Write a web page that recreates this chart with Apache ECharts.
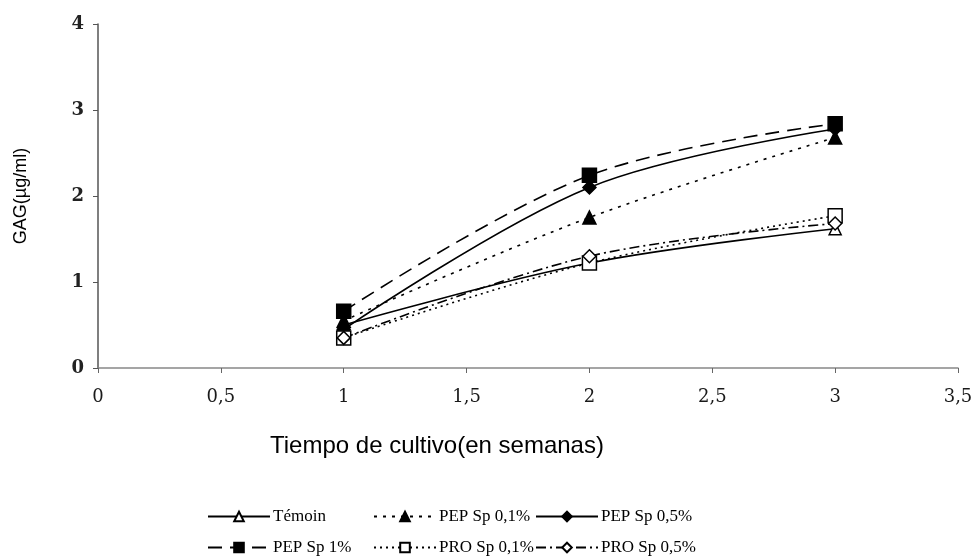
<!DOCTYPE html>
<html><head><meta charset="utf-8">
<script src="https://cdn.jsdelivr.net/npm/echarts@6/dist/echarts.min.js"></script>
<style>html,body{margin:0;padding:0;background:#fff}#c{width:977px;height:557px}</style>
</head><body><div id="c"></div>
<script>
var weeks = [1, 2, 3];
var seriesNames = ['Témoin', 'PEP Sp 0,1%', 'PEP Sp 0,5%', 'PEP Sp 1%', 'PRO Sp 0,1%', 'PRO Sp 0,5%'];
var temoin = [0.50, 1.22, 1.62];
var pep01 = [0.55, 1.75, 2.68];
var pep05 = [0.45, 2.10, 2.78];
var pep1 = [0.66, 2.24, 2.84];
var pro01 = [0.35, 1.22, 1.77];
var pro05 = [0.35, 1.30, 1.68];
var xTicks = [0, 0.5, 1, 1.5, 2, 2.5, 3, 3.5];
var yTicks = [0, 1, 2, 3, 4];

var values = [temoin, pep01, pep05, pep1, pro01, pro05];
var styles = [
  {symbol: 'triangle', fill: '#fff', size: 12, dash: 'solid'},
  {symbol: 'triangle', fill: '#000', size: 13, dash: [3, 6]},
  {symbol: 'diamond', fill: '#000', size: 13, dash: 'solid'},
  {symbol: 'rect', fill: '#000', size: 14, dash: [14, 8]},
  {symbol: 'rect', fill: '#fff', size: 14, dash: [2, 4]},
  {symbol: 'diamond', fill: '#fff', size: 13, dash: [10, 4, 2, 4]}
];
var series = seriesNames.map(function (n, i) {
  var s = styles[i];
  return {
    name: n, type: 'line', smooth: 0.35,
    data: weeks.map(function (w, j) { return [w, values[i][j]]; }),
    symbol: s.symbol, symbolSize: s.size,
    itemStyle: {color: s.fill, borderColor: '#000', borderWidth: 1.5},
    lineStyle: {color: '#000', width: 1.6, type: s.dash},
    z: i === 4 || i === 5 ? 3 : 2
  };
});
var legendPos = [
  {left: 207, top: 508}, {left: 373, top: 508}, {left: 535, top: 508},
  {left: 207, top: 539}, {left: 373, top: 539}, {left: 535, top: 539}
];
var legends = seriesNames.map(function (n, i) {
  return {
    data: [n], left: legendPos[i].left, top: legendPos[i].top,
    itemWidth: 62, itemHeight: 12, itemGap: 4, padding: 0,
    textStyle: {fontFamily: 'Liberation Serif', fontSize: 17, color: '#000', padding: [0, 0, 0, -2]}
  };
});
var fmt = function (v) { return String(v).replace('.', ','); };
var chart = echarts.init(document.getElementById('c'), null, {renderer: 'canvas'});
chart.setOption({
  backgroundColor: '#fff',
  animation: false,
  legend: legends,
  grid: {left: 98, right: 19, top: 24, bottom: 189, containLabel: false},
  xAxis: {
    type: 'value', min: xTicks[0], max: xTicks[xTicks.length - 1], interval: 0.5,
    axisLine: {lineStyle: {color: '#888', width: 1.5}},
    axisTick: {show: true, length: 5, lineStyle: {color: '#666'}},
    axisLabel: {formatter: fmt, fontFamily: 'DejaVu Serif', fontSize: 18, color: '#1a1a1a', margin: 20},
    splitLine: {show: false}
  },
  yAxis: {
    type: 'value', min: yTicks[0], max: yTicks[yTicks.length - 1], interval: 1,
    name: 'GAG(µg/ml)', nameLocation: 'middle', nameGap: 68, nameRotate: 90,
    nameTextStyle: {fontFamily: 'Liberation Sans', fontSize: 18, color: '#000'},
    axisLine: {show: true, lineStyle: {color: '#555', width: 1.5}},
    axisTick: {show: true, length: 5, lineStyle: {color: '#555'}},
    axisLabel: {fontFamily: 'DejaVu Serif', fontWeight: 'bold', fontSize: 18, color: '#222', margin: 14},
    splitLine: {show: false}
  },
  graphic: [{
    type: 'text', left: 270, top: 434,
    style: {text: 'Tiempo de cultivo(en semanas)', font: '24px "Liberation Sans"', fill: '#000'}
  }],
  series: series
});
</script></body></html>
